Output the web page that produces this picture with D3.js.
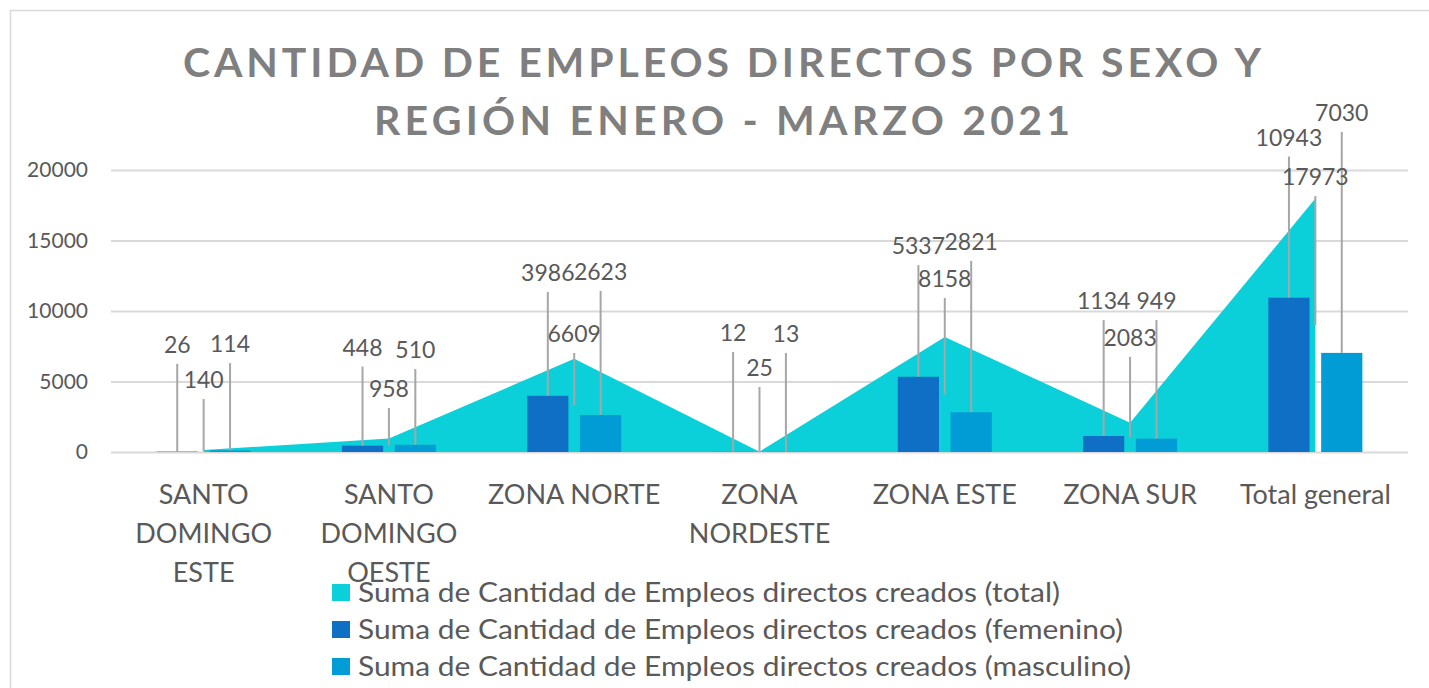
<!DOCTYPE html>
<html>
<head>
<meta charset="utf-8">
<script src="https://cdn.jsdelivr.net/npm/d3@7"></script>
<style>
  body { margin: 0; background: #fff; }
  svg { display: block; font-family: Lato, "Open Sans", sans-serif; }
</style>
</head>
<body>
<svg id="chart" width="1429" height="688"></svg>
<script>
// data
const regions = ["SANTO DOMINGO ESTE", "SANTO DOMINGO OESTE", "ZONA NORTE", "ZONA NORDESTE", "ZONA ESTE", "ZONA SUR", "Total general"];
const totalJobs = [140, 958, 6609, 25, 8158, 2083, 17973];
const femaleJobs = [26, 448, 3986, 12, 5337, 1134, 10943];
const maleJobs = [114, 510, 2623, 13, 2821, 949, 7030];
const yTicks = [0, 5000, 10000, 15000, 20000];
const seriesNames = [
  "Suma de Cantidad de Empleos directos creados (total)",
  "Suma de Cantidad de Empleos directos creados (femenino)",
  "Suma de Cantidad de Empleos directos creados (masculino)"
];
// where the (hand placed) data labels sit, read in axis units
const femaleLabelAt = [7600, 7400, 12700, 8440, 14600, 10700, 22300];
const totalLabelAt = [5100, 4470, 8370, 5960, 12270, 8090, 19500];
const maleLabelAt = [7650, 7230, 12770, 8370, 14900, 10700, 24050];

const colors = { total: "#0bd0d9", fem: "#0e6fc5", masc: "#019cd6" };
const textColor = "#595959";
const leaderColor = "#a6a6a6";

const svg = d3.select("#chart");

// outer frame
svg.append("rect")
  .attr("x", 10.5).attr("y", 10.5)
  .attr("width", 1440).attr("height", 700)
  .attr("fill", "none").attr("stroke", "#d9d9d9").attr("stroke-width", 1.5);

// title
const titleLines = [
  { text: "CANTIDAD DE EMPLEOS DIRECTOS POR SEXO Y", y: 77, len: 1078 },
  { text: "REGIÓN ENERO - MARZO 2021", y: 135, len: 696 }
];
svg.append("g").selectAll("text")
  .data(titleLines)
  .enter().append("text")
    .attr("x", 722)
    .attr("y", d => d.y)
    .attr("text-anchor", "middle")
    .attr("font-size", 41)
    .attr("font-weight", 700)
    .attr("fill", "#7f7f7f")
    .attr("textLength", d => d.len)
    .attr("lengthAdjust", "spacing")
    .text(d => d.text);

const plot = { left: 111, right: 1408, top: 170, bottom: 452 };

const x = d3.scaleBand()
  .domain(regions)
  .range([plot.left, plot.right]);

const xSub = d3.scaleBand()
  .domain(["fem", "masc"])
  .range([-47, 47])
  .paddingInner(0.22);

const y = d3.scaleLinear()
  .domain([0, 20000])
  .range([plot.bottom, plot.top]);

const cx = d => x(d) + x.bandwidth() / 2;

// gridlines + y labels
const yAxis = d3.axisLeft(y)
  .tickValues(yTicks)
  .tickSize(-(plot.right - plot.left))
  .tickPadding(23)
  .tickFormat(d3.format("d"));

const yg = svg.append("g")
  .attr("transform", `translate(${plot.left},0)`)
  .call(yAxis);
yg.select(".domain").remove();
yg.selectAll(".tick line").attr("stroke", "#d9d9d9").attr("stroke-width", 2);
yg.selectAll(".tick text")
  .attr("fill", textColor)
  .attr("font-size", 21)
  .attr("font-family", "Lato, sans-serif");

// total as area through category centres
const area = d3.area()
  .x((d, i) => cx(regions[i]))
  .y0(y(0))
  .y1(d => y(d));

svg.append("path")
  .datum(totalJobs)
  .attr("d", area)
  .attr("fill", colors.total);

// bars
const barData = [];
regions.forEach((r, i) => {
  barData.push({ region: r, key: "fem", value: femaleJobs[i], labelAt: femaleLabelAt[i] });
  barData.push({ region: r, key: "masc", value: maleJobs[i], labelAt: maleLabelAt[i] });
});

svg.append("g")
  .selectAll("rect")
  .data(barData)
  .enter().append("rect")
    .attr("x", d => cx(d.region) + xSub(d.key))
    .attr("y", d => y(d.value))
    .attr("width", xSub.bandwidth())
    .attr("height", d => y(0) - y(d.value))
    .attr("fill", d => colors[d.key]);

// data labels with leader lines
const labels = barData.map(d => ({
  x: cx(d.region) + xSub(d.key) + xSub.bandwidth() / 2,
  value: d.value,
  labelAt: d.labelAt,
  anchor: y(d.value)
}));
regions.forEach((r, i) => {
  labels.push({ x: cx(r), value: totalJobs[i], labelAt: totalLabelAt[i], anchor: y(totalJobs[i] / 2) });
});

const lg = svg.append("g").attr("class", "data-labels");
lg.selectAll("line")
  .data(labels)
  .enter().append("line")
    .attr("x1", d => d.x).attr("x2", d => d.x)
    .attr("y1", d => y(d.labelAt) + 19)
    .attr("y2", d => d.anchor)
    .attr("stroke", leaderColor)
    .attr("stroke-width", 2);

lg.selectAll("text")
  .data(labels)
  .enter().append("text")
    .attr("x", d => d.x)
    .attr("y", d => y(d.labelAt))
    .attr("dy", "0.36em")
    .attr("text-anchor", "middle")
    .attr("font-size", 23)
    .attr("fill", textColor)
    .text(d => d.value);

// x labels, wrapped to the category width
const xg = svg.append("g");
regions.forEach(r => {
  const t = xg.append("text")
    .attr("x", cx(r))
    .attr("y", 504)
    .attr("text-anchor", "middle")
    .attr("font-size", 27)
    .attr("fill", textColor);
  const words = r.split(" ");
  let line = [];
  let tspan = t.append("tspan").attr("x", cx(r)).attr("dy", 0);
  words.forEach(w => {
    line.push(w);
    tspan.text(line.join(" "));
    if (tspan.node().getComputedTextLength() > x.bandwidth() - 4 && line.length > 1) {
      line.pop();
      tspan.text(line.join(" "));
      line = [w];
      tspan = t.append("tspan").attr("x", cx(r)).attr("dy", 39).text(w);
    }
  });
});

// legend
const legendKeys = ["total", "fem", "masc"];
const legendWidths = [702, 765, 773];
const leg = svg.append("g").attr("transform", "translate(332,0)");
const items = leg.selectAll("g")
  .data(seriesNames)
  .enter().append("g")
    .attr("transform", (d, i) => `translate(0,${593 + i * 37})`);
items.append("rect")
  .attr("x", 0).attr("y", -9)
  .attr("width", 18).attr("height", 17)
  .attr("fill", (d, i) => colors[legendKeys[i]]);
items.append("text")
  .attr("x", 26)
  .attr("dy", "0.36em")
  .attr("font-size", 26)
  .attr("fill", textColor)
  .attr("textLength", (d, i) => legendWidths[i])
  .attr("lengthAdjust", "spacingAndGlyphs")
  .text(d => d);
</script>
</body>
</html>
